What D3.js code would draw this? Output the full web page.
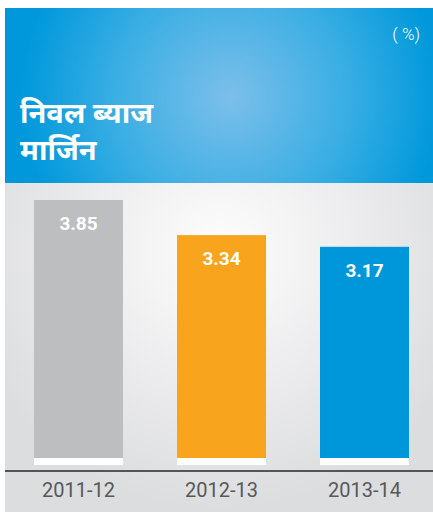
<!DOCTYPE html>
<html>
<head>
<meta charset="utf-8">
<script src="https://cdn.jsdelivr.net/npm/d3@7"></script>
<style>
  body { margin: 0; background: #fff; }
  svg { display: block; }
</style>
</head>
<body>
<div id="chart"></div>
<script>
// ===== Données =====
const years = ["2011-12", "2012-13", "2013-14"];
const values = [3.85, 3.34, 3.17];
const barColors = ["#bdbec0", "#f8a51d", "#0096da"];
const titleLines = ["निवल ब्याज", "मार्जिन"];
const unitLabel = "( %)";

const W = 433, H = 512;

const svg = d3.select("#chart").append("svg")
  .attr("width", W)
  .attr("height", H);

// ===== Dégradés =====
const defs = svg.append("defs");
const gHead = defs.append("radialGradient")
  .attr("id", "headGrad")
  .attr("gradientUnits", "userSpaceOnUse")
  .attr("cx", 230).attr("cy", 97).attr("r", 210);
gHead.append("stop").attr("offset", "0%").attr("stop-color", "#7cbfe9");
gHead.append("stop").attr("offset", "55%").attr("stop-color", "#3aaee3");
gHead.append("stop").attr("offset", "100%").attr("stop-color", "#0098db");

const gBody = defs.append("radialGradient")
  .attr("id", "bodyGrad")
  .attr("gradientUnits", "userSpaceOnUse")
  .attr("cx", 220).attr("cy", 250).attr("r", 260);
gBody.append("stop").attr("offset", "0%").attr("stop-color", "#fdfdfd");
gBody.append("stop").attr("offset", "100%").attr("stop-color", "#dcdddf");

// ===== Panneaux =====
svg.append("rect")
  .attr("x", 5).attr("y", 183)
  .attr("width", W - 5).attr("height", H - 183)
  .attr("fill", "url(#bodyGrad)");

svg.append("rect")
  .attr("x", 5).attr("y", 8)
  .attr("width", W - 5).attr("height", 175)
  .attr("fill", "url(#headGrad)");

// Titre
svg.append("g")
  .selectAll("text")
  .data(titleLines)
  .join("text")
  .attr("x", 20)
  .attr("y", (d, i) => 123 + i * 37)
  .attr("fill", "#fff")
  .attr("font-family", "'Noto Sans Devanagari', 'Lohit Devanagari', 'Noto Sans', sans-serif")
  .attr("font-size", 29)
  .attr("font-weight", "bold")
  .text((d) => d);

svg.append("text")
  .attr("x", 420)
  .attr("y", 40)
  .attr("text-anchor", "end")
  .attr("fill", "#fff")
  .attr("font-family", "Roboto, sans-serif")
  .attr("font-weight", 300)
  .attr("font-size", 17)
  .text(unitLabel);

// ===== Échelles =====
const x = d3.scaleBand()
  .domain(years)
  .range([7, 436])
  .paddingInner(54 / 143)
  .paddingOuter(27 / 143);

const y = d3.scaleLinear()
  .domain([0, 4])
  .range([465, 465 - 4 * (265 / 3.85)]);

const color = d3.scaleOrdinal().domain(years).range(barColors);

const data = years.map((yr, i) => ({ year: yr, value: values[i] }));

// ===== Barres =====
const bars = svg.append("g");
bars.selectAll("rect.bar")
  .data(data)
  .join("rect")
  .attr("class", "bar")
  .attr("x", (d) => x(d.year))
  .attr("y", (d) => y(d.value))
  .attr("width", x.bandwidth())
  .attr("height", (d) => y(0) - y(d.value))
  .attr("fill", (d) => color(d.year));

// bande blanche en bas des barres
bars.selectAll("rect.base")
  .data(data)
  .join("rect")
  .attr("class", "base")
  .attr("x", (d) => x(d.year))
  .attr("y", y(0) - 7)
  .attr("width", x.bandwidth())
  .attr("height", 7)
  .attr("fill", "#fff");

bars.selectAll("text")
  .data(data)
  .join("text")
  .attr("x", (d) => x(d.year) + x.bandwidth() / 2)
  .attr("y", (d) => y(d.value) + 30)
  .attr("text-anchor", "middle")
  .attr("fill", "#fff")
  .attr("font-family", "Roboto, sans-serif")
  .attr("font-weight", "bold")
  .attr("font-size", 19)
  .text((d) => d.value.toFixed(2));

// ===== Axe =====
const axis = svg.append("g")
  .attr("transform", "translate(0,471)")
  .call(d3.axisBottom(x).tickSize(0).tickPadding(12));
axis.select(".domain").remove();
axis.selectAll("text")
  .attr("fill", "#58585a")
  .attr("font-family", "Roboto, sans-serif")
  .attr("font-size", 20);

svg.append("line")
  .attr("x1", 5).attr("x2", W)
  .attr("y1", 471).attr("y2", 471)
  .attr("stroke", "#555")
  .attr("stroke-width", 1.8);
</script>
</body>
</html>
